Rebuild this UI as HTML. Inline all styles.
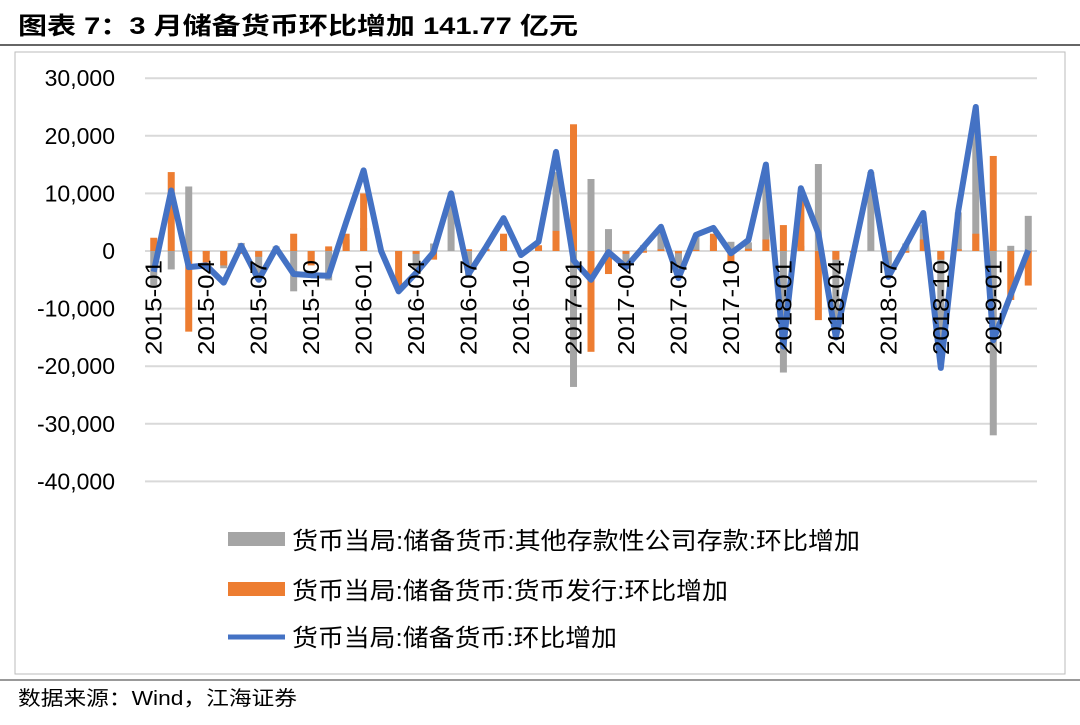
<!DOCTYPE html>
<html><head><meta charset="utf-8"><style>
body{margin:0;width:1080px;height:720px;background:#fff;overflow:hidden;font-family:"Liberation Sans","Noto Sans CJK SC",sans-serif;}
</style></head><body>
<svg width="1080" height="720" xmlns="http://www.w3.org/2000/svg">
<text x="18" y="34" font-size="24" font-weight="bold" textLength="560" lengthAdjust="spacingAndGlyphs" font-family="Liberation Sans, Noto Sans CJK SC, sans-serif" fill="#000">图表 7：3 月储备货币环比增加 141.77 亿元</text>
<line x1="0" y1="45" x2="1080" y2="45" stroke="#333" stroke-width="1.5"/>
<rect x="15" y="52" width="1050" height="622" fill="none" stroke="#bbb" stroke-width="1"/>
<line x1="0" y1="680" x2="1080" y2="680" stroke="#333" stroke-width="1"/>
<text x="18" y="705" font-size="20" textLength="279" lengthAdjust="spacingAndGlyphs" font-family="Liberation Sans, Noto Sans CJK SC, sans-serif">数据来源：Wind，江海证券</text>
<g id="grid"></g><g id="bars"></g><g id="line"></g><g id="xlabels"></g><g id="ylabels"></g>
<g>
<rect x="228" y="532" width="57" height="14" fill="#a5a5a5"/>
<text x="292" y="549" font-size="24" textLength="568" lengthAdjust="spacingAndGlyphs">货币当局:储备货币:其他存款性公司存款:环比增加</text>
<rect x="228" y="582" width="57" height="14" fill="#ed7d31"/>
<text x="292" y="599" font-size="24" textLength="436" lengthAdjust="spacingAndGlyphs">货币当局:储备货币:货币发行:环比增加</text>
<line x1="228" y1="637" x2="285" y2="637" stroke="#4472c4" stroke-width="5"/>
<text x="292" y="646" font-size="24" textLength="325" lengthAdjust="spacingAndGlyphs">货币当局:储备货币:环比增加</text>
</g>
</svg>
<script>
const categories=[];
for(let y=2015;y<=2019;y++)for(let m=1;m<=12;m++){if(y===2019&&m>3)break;categories.push(y+'-'+String(m).padStart(2,'0'));}
const reserveMoney=[-3600,10500,-2800,-2500,-5500,900,-5000,500,-4000,-4200,-4300,5000,
14000,0,-7000,-3800,-200,10000,-4000,700,5700,-700,1600,17200,
-1600,-5000,-200,-2800,700,4200,-4700,2800,4000,-400,1900,15000,
-16600,10900,3100,-15000,-500,13700,-4500,1000,6600,-20300,7000,25000,
-15500,-7600,142];
const currencyIssue=[2300,13700,-14000,-2000,-2500,-500,-1000,-300,3000,-2500,800,3000,
10000,0,-6500,-500,-1500,0,300,300,3000,0,1000,3500,
22000,-17500,-4000,-500,-300,300,-400,200,3000,-2000,400,2000,
4500,10000,-12000,-1500,-200,0,-200,-300,2000,-1500,300,3000,
16500,-8500,-6000];
const otherDeposits=[-5900,-3200,11200,-500,-3000,1400,-4000,800,-7000,-1700,-5100,2000,
4000,0,-500,-3300,1300,10000,-4300,400,2700,-700,600,13700,
-23600,12500,3800,-2300,1000,3900,-4300,2600,1000,1600,1500,13000,
-21100,900,15100,-13500,-300,13700,-4300,1300,4600,-18800,6700,22000,
-32000,900,6100];
const yTicks=[30000,20000,10000,0,-10000,-20000,-30000,-40000];
const NS='http://www.w3.org/2000/svg';
const X0=145,X1=1037,Y0=251,PX=57.6/10000;
const bw=(X1-X0)/categories.length;
const xs=i=>X0+bw*(i+0.5);
const ys=v=>Y0-v*PX;
function mk(t,a,p){const e=document.createElementNS(NS,t);for(const k in a)e.setAttribute(k,a[k]);document.getElementById(p).appendChild(e);return e;}
yTicks.forEach(v=>{
 const l=mk('line',{x1:X0,x2:X1,y1:ys(v),y2:ys(v),stroke:'#d9d9d9','stroke-width':2},'grid');
 
 
 const t=mk('text',{x:115,y:ys(v)+8,'text-anchor':'end','font-size':23},'ylabels');
 t.textContent=v.toLocaleString('en-US');
 
 
});
otherDeposits.forEach((v,i)=>{
 const r=mk('rect',{x:xs(i)-3.5,width:7,y:Math.min(ys(v),Y0),height:Math.abs(ys(v)-Y0),fill:'#a5a5a5'},'bars');
 
 
});
currencyIssue.forEach((v,i)=>{
 const r=mk('rect',{x:xs(i)-3.5,width:7,y:Math.min(ys(v),Y0),height:Math.abs(ys(v)-Y0),fill:'#ed7d31'},'bars');
 
 
});
const pl=mk('polyline',{points:reserveMoney.map((v,i)=>xs(i)+','+ys(v)).join(' '),fill:'none',stroke:'#4472c4','stroke-width':6,'stroke-linejoin':'round'},'line');


categories.forEach((c,i)=>{
 if(i%3!==0)return;
 const x=xs(i)+8,y=260;
 const t=mk('text',{x:x,y:y,'text-anchor':'end','font-size':23,textLength:95,lengthAdjust:'spacingAndGlyphs',transform:`rotate(-90 ${x} ${y})`},'xlabels');
 t.textContent=c;
 
 
});
</script>
</body></html>
